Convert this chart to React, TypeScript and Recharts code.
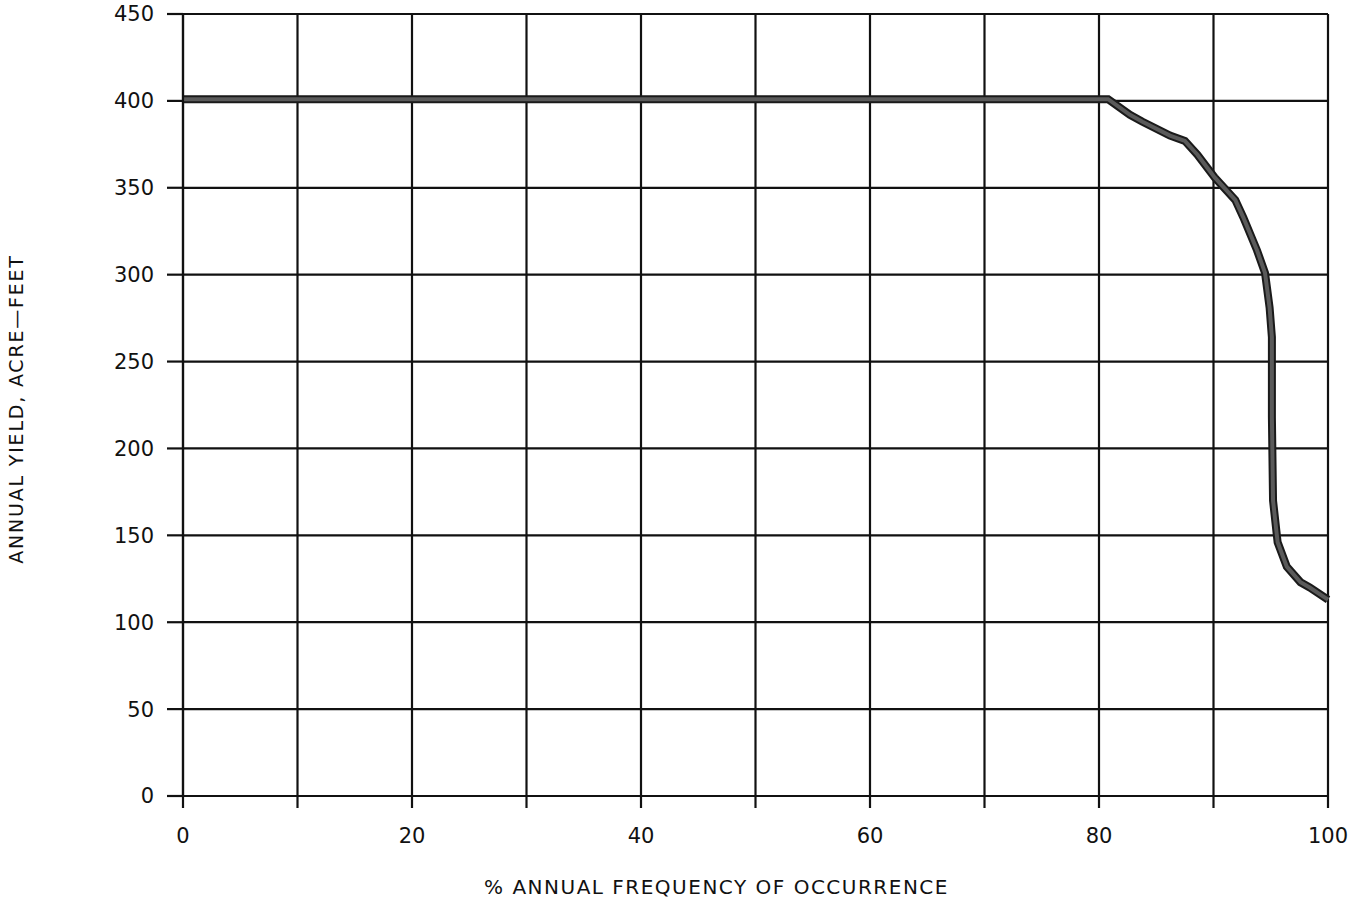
import { LineChart, Line, XAxis, YAxis, CartesianGrid, Label } from "recharts"

// % annual frequency of occurrence vs annual yield (acre-feet)
const frequency = [0, 20, 40, 60, 80, 80.8, 82.7, 83.8, 86.2, 87.5, 88.6, 90.1, 91.9, 92.6, 93.8, 94.5, 94.9, 95.1, 95.1, 95.2, 95.6, 96.4, 97.6, 98.4, 100]
const annualYield = [401, 401, 401, 401, 401, 401, 392, 388, 380, 377, 369, 356, 343, 333, 314, 301, 281, 264, 218, 170, 146, 132, 123, 120, 113]

const xTicks = [0, 10, 20, 30, 40, 50, 60, 70, 80, 90, 100]
const yTicks = [0, 50, 100, 150, 200, 250, 300, 350, 400, 450]

const data = frequency.map((f, i) => ({ freq: f, yield: annualYield[i] }))

const font = "'DejaVu Sans', sans-serif"

export default function App() {
  return (
    <div style={{ position: "absolute", left: 0, top: 0, background: "#fff" }}>
      <LineChart
        width={1364}
        height={903}
        data={data}
        margin={{ top: 14, right: 36, bottom: 0, left: 0 }}
      >
        <CartesianGrid stroke="#111" strokeWidth={2.2} fill="#fff" />
        <XAxis
          dataKey="freq"
          type="number"
          domain={[0, 100]}
          ticks={xTicks}
          tickFormatter={(v: number) => (v % 20 === 0 ? String(v) : "")}
          interval={0}
          height={107}
          tickSize={12}
          tickMargin={20}
          stroke="#111"
          strokeWidth={2.2}
          tick={{ fill: "#111", fontSize: 21, fontFamily: font }}
        >
          <Label
            value="% ANNUAL FREQUENCY OF OCCURRENCE"
            position="insideBottom"
            offset={9}
            dx={-39}
            style={{ fill: "#111", fontSize: 20, fontFamily: font, letterSpacing: 1.5 }}
          />
        </XAxis>
        <YAxis
          type="number"
          domain={[0, 450]}
          ticks={yTicks}
          interval={0}
          width={183}
          tickSize={16}
          tickMargin={13}
          stroke="#111"
          strokeWidth={2.2}
          tick={{ fill: "#111", fontSize: 21, fontFamily: font }}
        >
          <Label
            value="ANNUAL YIELD, ACRE—FEET"
            angle={-90}
            position="insideLeft"
            offset={16}
            dy={4}
            style={{ fill: "#111", fontSize: 19, fontFamily: font, letterSpacing: 1.8, textAnchor: "middle" }}
          />
        </YAxis>
        <Line
          dataKey="yield"
          type="linear"
          stroke="#1a1a1a"
          strokeWidth={8}
          dot={false}
          isAnimationActive={false}
        />
        <Line
          dataKey="yield"
          type="linear"
          stroke="#5a5a5a"
          strokeWidth={4}
          dot={false}
          isAnimationActive={false}
        />
      </LineChart>
    </div>
  )
}
